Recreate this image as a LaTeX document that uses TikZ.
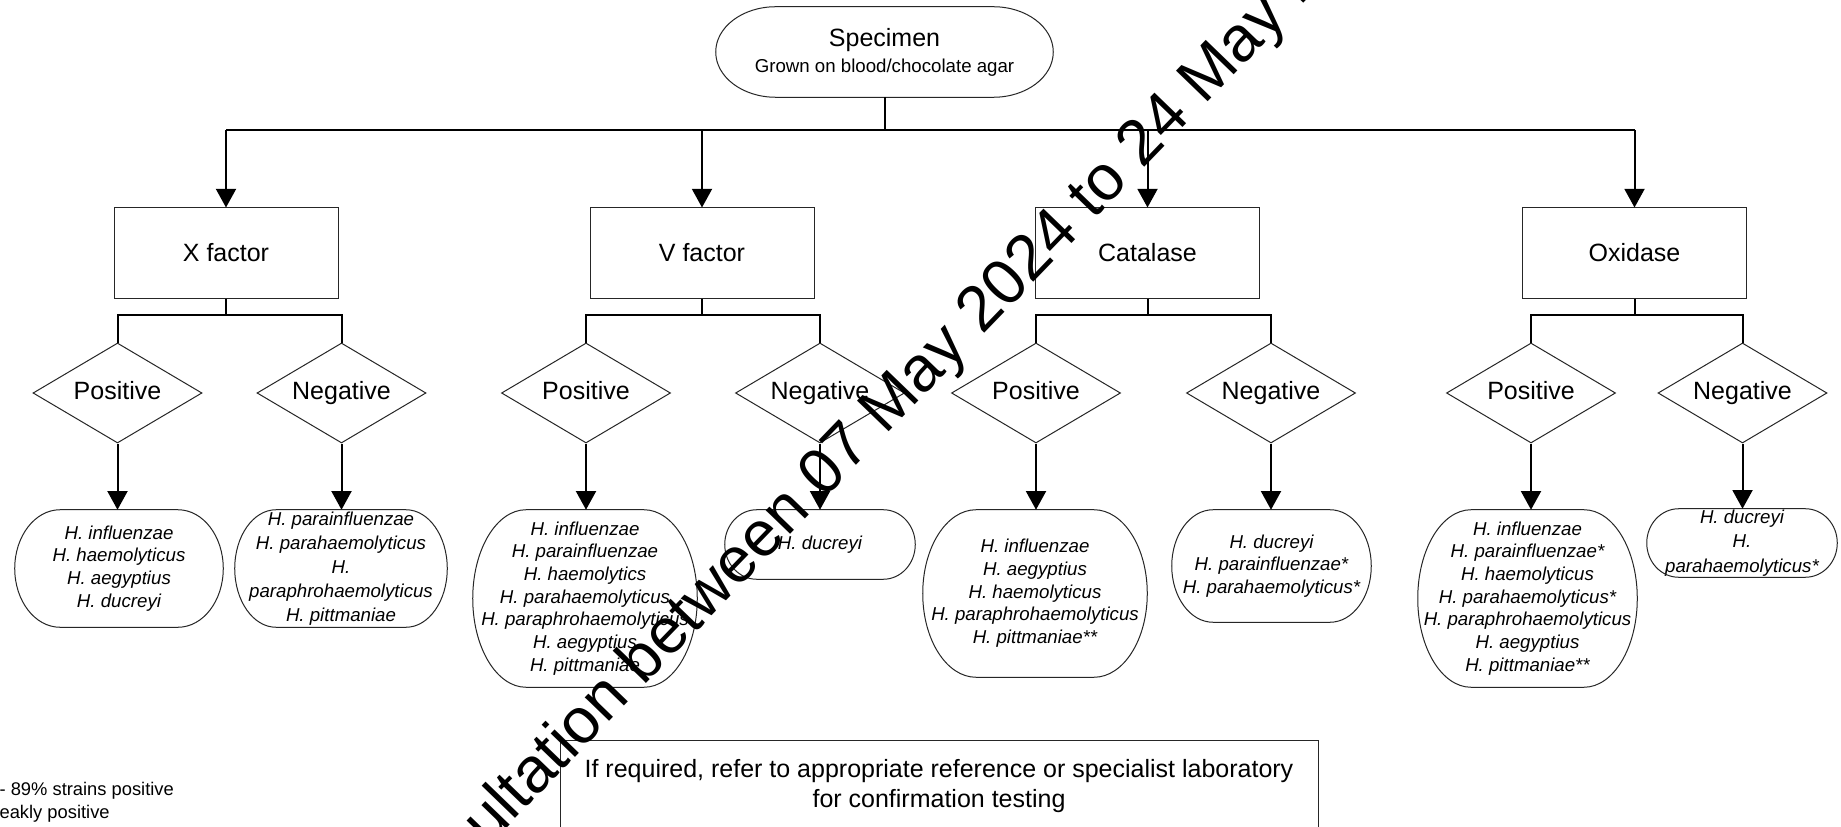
\documentclass[tikz,border=0pt]{standalone}
\usepackage{fontspec}
\setmainfont{Liberation Sans}
\usetikzlibrary{arrows.meta,shapes.geometric,calc}
\newcommand\bigtext{\fontsize{18.75}{22.5}\selectfont}
\newcommand\smalltext{\fontsize{14}{17}\selectfont}
% outline with elliptic ends, drawn round a plain node
\newcommand\capsule[2]{%
  \draw[outline] let \p1=(#1.north west), \p2=(#1.south east), \n1={0.5*(\y1-\y2)} in
    (\x1+#2,\y1) -- (\x2-#2,\y1) arc[start angle=90,end angle=-90,x radius=#2,y radius=\n1]
    -- (\x1+#2,\y2) arc[start angle=-90,end angle=-270,x radius=#2,y radius=\n1] -- cycle;}
\tikzset{
  outline/.style={draw=black!85,line width=0.75pt},
  test box/.style={outline,rectangle,minimum width=168pt,minimum height=67.5pt,
    align=center,inner sep=0pt,font=\bigtext},
  result/.style={outline,diamond,aspect=1.69,minimum width=126.75pt,minimum height=75pt,
    inner sep=0pt,text height=13.5pt,text depth=4pt,font=\bigtext},
  species/.style={rectangle,inner sep=0pt,align=center,font=\smalltext\itshape},
  link/.style={line width=1.5pt},
  arrow/.style={link,-{Triangle[length=14pt,width=15pt]}},
  key/.style={align=left,inner sep=0pt,font=\fontsize{13.75}{17.25}\selectfont},
  watermark/.style={inner sep=0pt,font=\fontsize{48}{52}\selectfont}
}
\begin{document}
\begin{tikzpicture}[x=0.75pt,y=-0.75pt]
\clip (0,0) rectangle (1841,827);
\fill[white] (0,0) rectangle (1841,827);

% specimen
\node[species,font=\bigtext,minimum width=252.75pt,minimum height=67.5pt] (spec) at (884.5,52)
  {Specimen\\[-3pt]\smalltext Grown on blood/chocolate agar};
\capsule{spec}{45pt}

% tests
\node[test box] (xf) at (226,253) {X factor};
\node[test box] (vf) at (702,253) {V factor};
\node[test box] (ca) at (1147.5,253) {Catalase};
\node[test box] (ox) at (1634.5,253) {Oxidase};

% results
\node[result] (xpos) at (117.5,393) {Positive};
\node[result] (xneg) at (341.5,393) {Negative};
\node[result] (vpos) at (586,393) {Positive};
\node[result] (vneg) at (820,393) {Negative};
\node[result] (cpos) at (1036,393) {Positive};
\node[result] (cneg) at (1271,393) {Negative};
\node[result] (opos) at (1531,393) {Positive};
\node[result] (oneg) at (1742.5,393) {Negative};

% species lists
\node[species,minimum width=156pt,minimum height=87.75pt] (xpos-list) at (119,568.5)
  {H. influenzae\\H. haemolyticus\\H. aegyptius\\H. ducreyi};
\node[species,font=\fontsize{14}{18}\selectfont\itshape,minimum width=159pt,minimum height=87.75pt] (xneg-list) at (341,568.5)
  {H. parainfluenzae\\H. parahaemolyticus\\H.\\paraphrohaemolyticus\\H. pittmaniae};
\node[species,minimum width=168pt,minimum height=132.75pt] (vpos-list) at (585,598.5)
  {H. influenzae\\H. parainfluenzae\\H. haemolytics\\H. parahaemolyticus\\H. paraphrohaemolyticus\\H. aegyptius\\H. pittmaniae};
\node[species,minimum width=142.5pt,minimum height=51.75pt] (vneg-list) at (820,544.5)
  {H. ducreyi};
\node[species,minimum width=168pt,minimum height=125.25pt] (cpos-list) at (1035,593.5)
  {H. influenzae\\H. aegyptius\\H. haemolyticus\\H. paraphrohaemolyticus\\H. pittmaniae**};
\node[species,minimum width=149.25pt,minimum height=84pt] (cneg-list) at (1271.5,566)
  {H. ducreyi\\H. parainfluenzae*\\H. parahaemolyticus*};
\node[species,minimum width=164.25pt,minimum height=132.75pt] (opos-list) at (1527.5,598.5)
  {H. influenzae\\H. parainfluenzae*\\H. haemolyticus\\H. parahaemolyticus*\\H. paraphrohaemolyticus\\H. aegyptius\\H. pittmaniae**};
\node[species,font=\fontsize{14}{18.5}\selectfont\itshape,minimum width=142.5pt,minimum height=51pt] (oneg-list) at (1742,543)
  {H. ducreyi\\H.\\parahaemolyticus*};
\capsule{xpos-list}{34pt}
\capsule{xneg-list}{31pt}
\capsule{vpos-list}{40pt}
\capsule{vneg-list}{24pt}
\capsule{cpos-list}{40pt}
\capsule{cneg-list}{31pt}
\capsule{opos-list}{40pt}
\capsule{oneg-list}{24pt}

% connectors
\coordinate (bus) at (884.5,130);
\draw[link] (spec.south) -- (bus);
\draw[link] (xf.north |- bus) -- (ox.north |- bus);
\foreach \t in {xf,vf,ca,ox}
  \draw[arrow] (\t.north |- bus) -- (\t.north);
\foreach \t/\p/\n in {xf/xpos/xneg,vf/vpos/vneg,ca/cpos/cneg,ox/opos/oneg}{
  \draw[link] (\t.south) -- ++(0,16) coordinate (fork);
  \draw[link] (\p.north) |- (fork) -| (\n.north);
}
\foreach \d in {xpos,xneg,vpos,vneg,cpos,cneg,opos,oneg}
  \draw[arrow] (\d.south) -- (\d.south |- \d-list.north);

% referral note and key
\node[test box,minimum width=568.5pt,minimum height=69pt,font=\bigtext] (refer) at (939,786)
  {If required, refer to appropriate reference or specialist laboratory\\for confirmation testing};
\node[key,anchor=north west] (key) at (-37,782)
  {* 11 - 89\% strains positive\\** Weakly positive};

% watermark
\node[watermark,rotate=46,anchor=base west] (mark) at (394,945)
  {consultation between 07 May 2024 to 24 May 2024};
\end{tikzpicture}
\end{document}
